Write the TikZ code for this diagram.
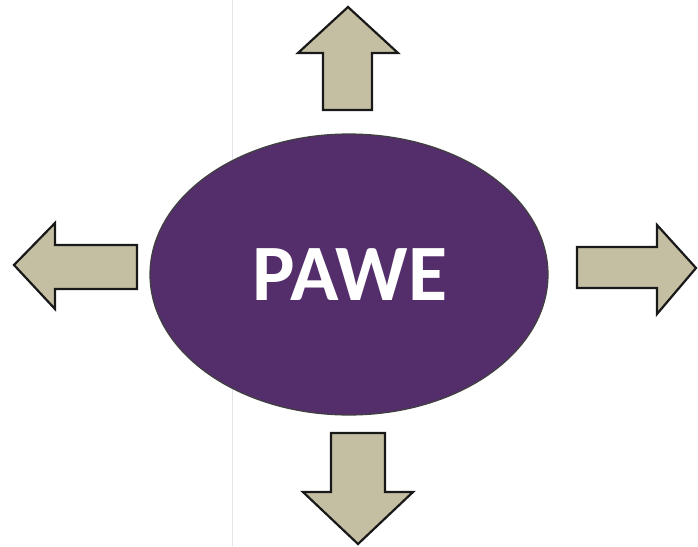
\documentclass[tikz,border=0pt]{standalone}
\usepackage{fontspec}
\setmainfont{Carlito}
\usetikzlibrary{shapes.geometric}
\definecolor{pawepurple}{RGB}{84,46,106}
\definecolor{arrowfill}{RGB}{196,190,163}
\definecolor{scanline}{RGB}{225,228,232}
\begin{document}
\begin{tikzpicture}[x=1pt,y=-1pt,
  bigarrow/.style={draw=black!90, line width=2.2pt, fill=arrowfill, line join=miter},
  hub/.style={ellipse, draw=black!75, line width=1.2pt, fill=pawepurple, minimum width=398pt, minimum height=281pt, inner sep=0pt}]
\useasboundingbox (0,0) rectangle (698,546);
\fill[white] (0,0) rectangle (698,546);
\draw[scanline, line width=0.8pt] (232,0) -- (232,546);
\node[hub] (hub) at (349,274.5) {};
\node[anchor=base, text=white, font=\bfseries\fontsize{80}{80}\selectfont, inner sep=0pt] (label) at (350,300) {PAWE};
% up arrow
\draw[bigarrow] (323,110) -- (323,53) -- (298,53) -- (348,7) -- (398,53) -- (372,53) -- (372,110) -- cycle;
% down arrow
\draw[bigarrow] (331,433) -- (331,492) -- (303,492) -- (358,544) -- (413,492) -- (385,492) -- (385,433) -- cycle;
% left arrow
\draw[bigarrow] (137,245) -- (55,245) -- (55,223) -- (14,265) -- (55,309) -- (55,289) -- (137,289) -- cycle;
% right arrow
\draw[bigarrow] (577,247) -- (657,247) -- (657,225) -- (696,268) -- (657,314) -- (657,288) -- (577,288) -- cycle;
\end{tikzpicture}
\end{document}
